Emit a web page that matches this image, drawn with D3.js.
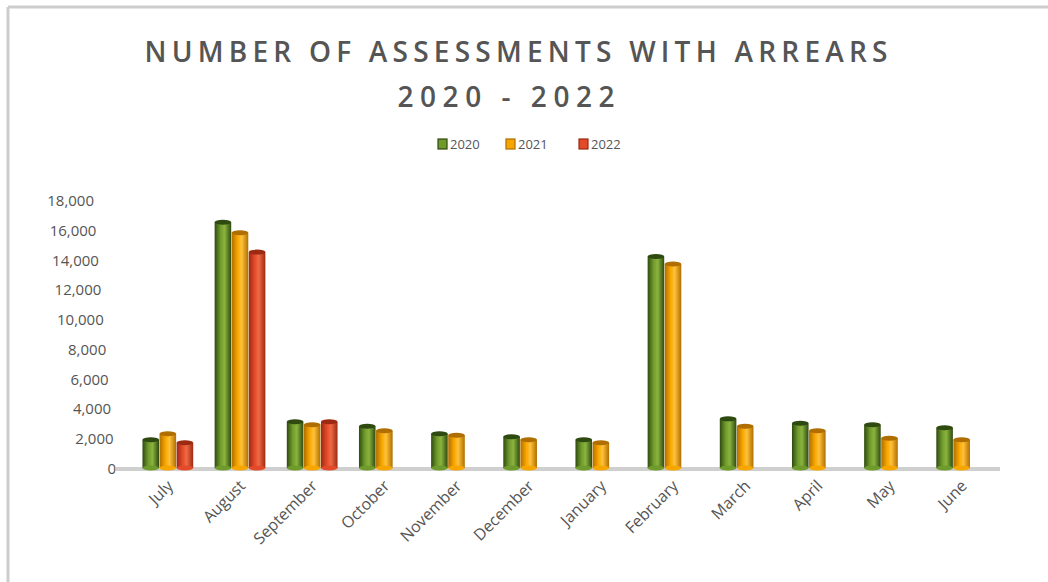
<!DOCTYPE html>
<html>
<head>
<meta charset="utf-8">
<script src="https://cdn.jsdelivr.net/npm/d3@7"></script>
<style>
  html, body { margin: 0; padding: 0; background: #fff; }
  svg { display: block; }
  text { font-family: "Open Sans", "Liberation Sans", sans-serif; fill: #555; }
</style>
</head>
<body>
<svg id="chart" width="1048" height="582"></svg>
<script>
// Monthly count of assessments with arrears, one series per year
const months = ["July", "August", "September", "October", "November", "December",
                "January", "February", "March", "April", "May", "June"];
const years = ["2020", "2021", "2022"];
const values2020 = [1900, 16500, 3100, 2800, 2300, 2100, 1900, 14200, 3300, 3000, 2900, 2700];
const values2021 = [2300, 15800, 2900, 2500, 2200, 1900, 1700, 13700, 2800, 2500, 2000, 1900];
const values2022 = [1700, 14500, 3100, null, null, null, null, null, null, null, null, null];
const yTicks = [0, 2000, 4000, 6000, 8000, 10000, 12000, 14000, 16000, 18000];

const seriesColors = {
  "2020": { dark: "#2f4a10", mid: "#6f9a2c", light: "#8bb43e" },
  "2021": { dark: "#b06e00", mid: "#f7a600", light: "#ffc23a" },
  "2022": { dark: "#9c2a12", mid: "#e24a2a", light: "#f06a44" }
};

const series = [values2020, values2021, values2022];
const rows = [];
months.forEach((m, i) => {
  years.forEach((yr, j) => {
    const v = series[j][i];
    if (v != null) rows.push({ month: m, year: yr, value: v });
  });
});

const svg = d3.select("#chart");

// Frame lines along the top and left edges
svg.append("line").attr("x1", 8).attr("x2", 1048).attr("y1", 7).attr("y2", 7)
  .attr("stroke", "#cdcdcd").attr("stroke-width", 3);
svg.append("line").attr("x1", 8).attr("x2", 8).attr("y1", 7).attr("y2", 582)
  .attr("stroke", "#cdcdcd").attr("stroke-width", 3);

// Scales
const x0 = d3.scaleBand().domain(months).range([132, 998]).paddingInner(0.29).paddingOuter(0.145);
const x1 = d3.scaleBand().domain(years).range([0, x0.bandwidth()]).padding(0);
const y = d3.scaleLinear().domain([0, 18000]).range([468, 200]);

// Gradients for cylinder shading
const defs = svg.append("defs");
years.forEach(yr => {
  const c = seriesColors[yr];
  const g = defs.append("linearGradient").attr("id", "grad" + yr)
    .attr("x1", "0%").attr("x2", "100%").attr("y1", "0%").attr("y2", "0%");
  g.append("stop").attr("offset", "0%").attr("stop-color", c.dark);
  g.append("stop").attr("offset", "35%").attr("stop-color", c.mid);
  g.append("stop").attr("offset", "60%").attr("stop-color", c.light);
  g.append("stop").attr("offset", "100%").attr("stop-color", c.dark);
});

// Floor line
svg.append("line").attr("x1", 116).attr("x2", 1000).attr("y1", y(0) + 1).attr("y2", y(0) + 1)
  .attr("stroke", "#cfcfcf").attr("stroke-width", 4);

// Y axis labels, slanted with the perspective of the plot wall
const yAxis = svg.append("g");
yTicks.forEach(t => {
  yAxis.append("text")
    .attr("x", 116 - (t / 18000) * 22)
    .attr("y", y(t) + 2)
    .attr("text-anchor", "end")
    .attr("dominant-baseline", "middle")
    .attr("font-size", 15)
    .text(d3.format(",")(t));
});

// Bars
const groups = svg.append("g").selectAll("g.bar")
  .data(rows).join("g").attr("class", "bar")
  .attr("transform", d => `translate(${x0(d.month) + x1(d.year)},0)`);
const bw = x1.bandwidth();
groups.append("rect")
  .attr("x", 0).attr("width", bw - 0.5)
  .attr("y", d => y(d.value))
  .attr("height", d => y(0) - y(d.value))
  .attr("fill", d => `url(#grad${d.year})`);
groups.append("ellipse")
  .attr("cx", bw / 2 - 0.25).attr("cy", d => y(d.value))
  .attr("rx", bw / 2 - 0.25).attr("ry", 2.5)
  .attr("fill", d => seriesColors[d.year].dark);
groups.append("ellipse")
  .attr("cx", bw / 2 - 0.25).attr("cy", y(0))
  .attr("rx", bw / 2 - 0.25).attr("ry", 2.5)
  .attr("fill", d => seriesColors[d.year].mid);

// X axis labels rotated 45°
svg.append("g").selectAll("text")
  .data(months).join("text")
  .attr("transform", d => `translate(${x0(d) + x0.bandwidth() / 2 + 6},${y(0) + 19}) rotate(-45)`)
  .attr("text-anchor", "end")
  .attr("font-size", 16)
  .text(d => d);

// Title
svg.append("text").attr("x", 516).attr("y", 62)
  .attr("text-anchor", "middle").attr("font-size", 28).attr("font-weight", 600)
  .attr("textLength", 743).attr("lengthAdjust", "spacing")
  .text("NUMBER OF ASSESSMENTS WITH ARREARS");
svg.append("text").attr("x", 506).attr("y", 107)
  .attr("text-anchor", "middle").attr("font-size", 28).attr("font-weight", 600)
  .attr("textLength", 217).attr("lengthAdjust", "spacing")
  .text("2020 - 2022");

// Legend
const legendX = [438, 506, 579];
const legend = svg.append("g").selectAll("g")
  .data(years).join("g")
  .attr("transform", (d, i) => `translate(${legendX[i]},139)`);
legend.append("rect").attr("width", 9).attr("height", 10)
  .attr("fill", d => seriesColors[d].mid).attr("stroke", d => seriesColors[d].dark).attr("stroke-width", 1.2);
legend.append("text").attr("x", 12).attr("y", 10)
  .attr("font-size", 13).text(d => d);
</script>
</body>
</html>
